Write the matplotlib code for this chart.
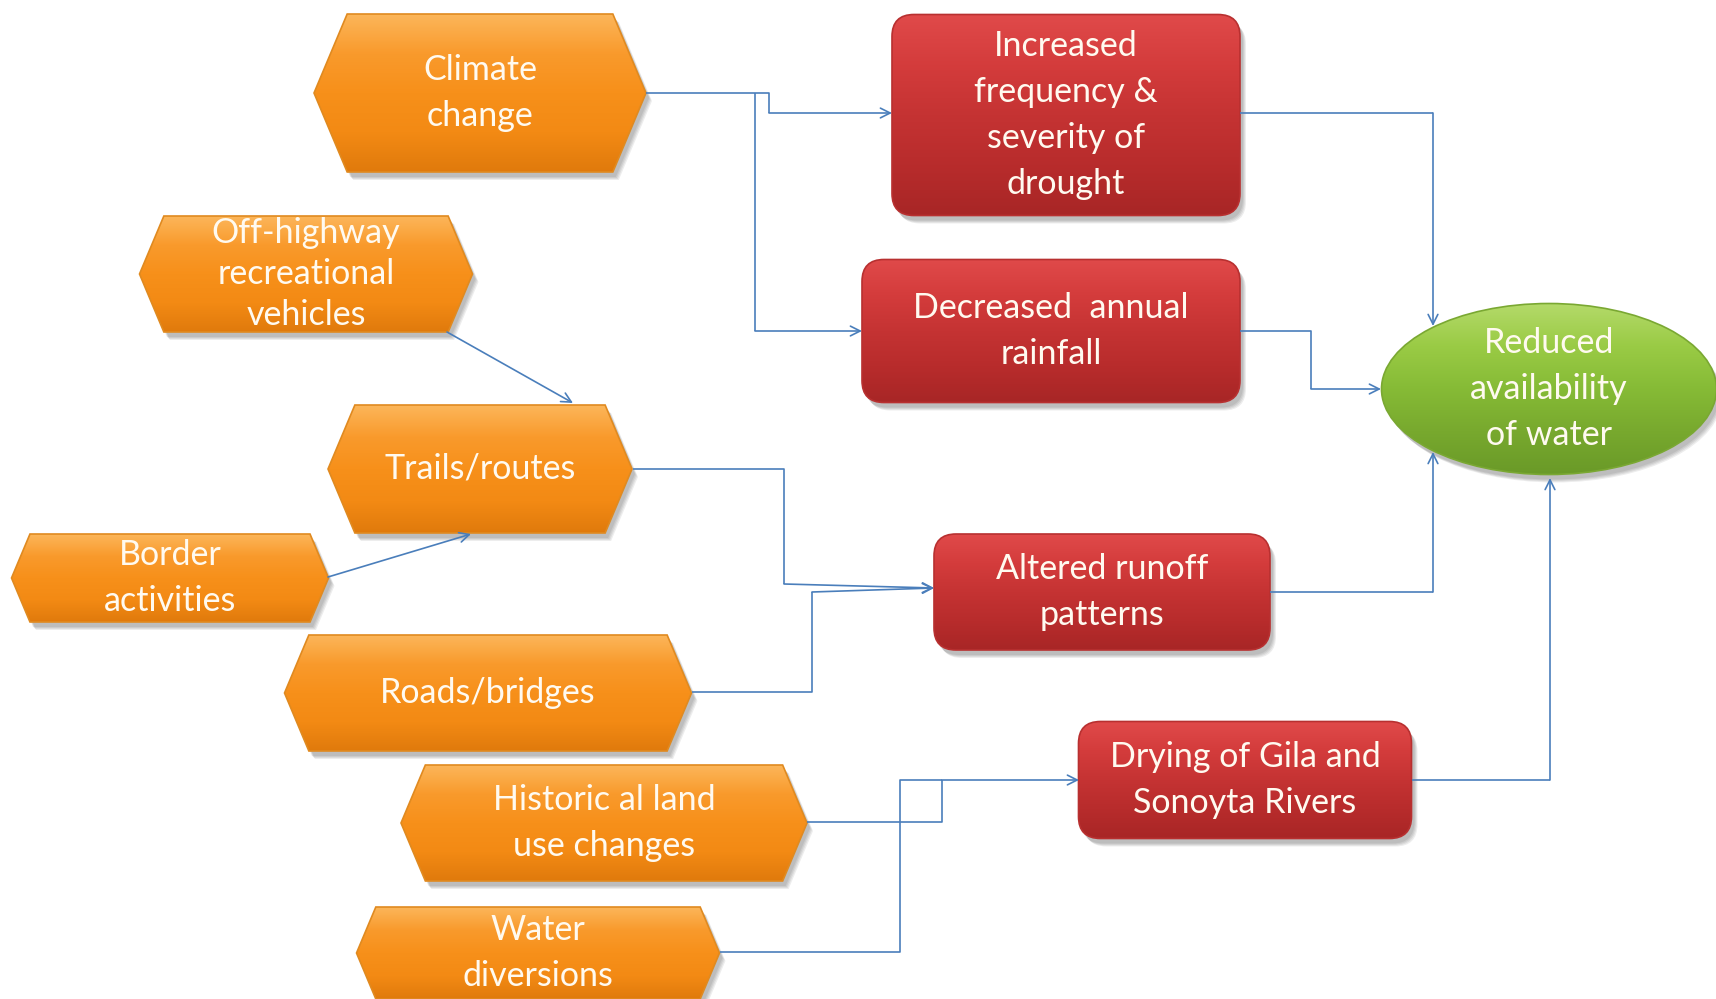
import numpy as np
import matplotlib.pyplot as plt
from matplotlib.patches import Polygon, FancyBboxPatch, Ellipse
from matplotlib.colors import LinearSegmentedColormap

# stressors (orange hexagons)
cause_labels = ["Climate\nchange", "Off-highway\nrecreational\nvehicles", "Trails/routes",
                "Border\nactivities", "Roads/bridges", "Historic al land\nuse changes",
                "Water\ndiversions"]
cause_xy = [(480, 93), (306, 274), (480, 469), (170, 578), (488, 693), (604, 823), (538, 953)]
cause_wh = [(332, 158), (333, 116), (304, 128), (317, 88), (407, 116), (406, 116), (363, 92)]
cause_lsp = [1.55, 1.35, 1.55, 1.55, 1.55, 1.55, 1.55]

# intermediate effects (red boxes)
effect_labels = ["Increased\nfrequency &\nseverity of\ndrought", "Decreased  annual\nrainfall",
                 "Altered runoff\npatterns", "Drying of Gila and\nSonoyta Rivers"]
effect_xy = [(1066, 115), (1051, 331), (1102, 592), (1245, 780)]
effect_wh = [(348, 201), (378, 143), (336, 116), (333, 117)]

# final outcome (green ellipse)
outcome_label = "Reduced\navailability\nof water"
outcome_xy = (1549, 389)
outcome_wh = (335, 171)

# connectors; arrow flag says whether the last segment gets a head
links = [
    [(646, 93), (769, 93), (769, 113), (892, 113)],
    [(755, 93), (755, 331), (862, 331)],
    [(1240, 113), (1433, 113), (1433, 326)],
    [(1240, 331), (1311, 331), (1311, 389), (1381, 389)],
    [(447, 332), (573, 403)],
    [(328, 577), (471, 534)],
    [(633, 469), (784, 469), (784, 584), (934, 588)],
    [(692, 692), (812, 692), (812, 592), (934, 588)],
    [(1270, 592), (1433, 592), (1433, 452)],
    [(807, 822), (942, 822), (942, 780), (1079, 780)],
    [(720, 952), (900, 952), (900, 780), (942, 780)],
    [(1412, 780), (1550, 780), (1550, 478)],
]
link_arrow = [True, True, True, True, True, True, True, True, True, True, False, True]

W, H = 1716, 999
fig = plt.figure(figsize=(W / 100, H / 100), dpi=100, facecolor="white")
ax = fig.add_axes([0, 0, 1, 1])
ax.set_xlim(0, W)
ax.set_ylim(H, 0)
ax.axis("off")

font = ["Lato", "DejaVu Sans"]
fsize = 24.5
lsp = 1.55
line_col = "#4a7ebb"


def gradient_fill(patch, colors, x0, y0, w, h, z):
    ax.add_patch(patch)
    cmap = LinearSegmentedColormap.from_list("g", colors)
    grad = np.linspace(0, 1, 256).reshape(-1, 1)
    im = ax.imshow(grad, cmap=cmap, extent=(x0, x0 + w, y0 + h, y0), origin="upper",
                   aspect="auto", zorder=z, interpolation="bilinear")
    im.set_clip_path(patch)


def shadow(make, n=4):
    for i in range(n):
        p = make(3 + i, 5 + i)
        p.set_facecolor("black")
        p.set_edgecolor("none")
        p.set_alpha(0.07)
        p.set_zorder(1)
        ax.add_patch(p)


def hexagon(cx, cy, w, h, dx=0, dy=0):
    s = 0.21 * h
    x0, x1 = cx - w / 2 + dx, cx + w / 2 + dx
    y0, y1 = cy - h / 2 + dy, cy + h / 2 + dy
    pts = [(x0, cy + dy), (x0 + s, y0), (x1 - s, y0), (x1, cy + dy), (x1 - s, y1), (x0 + s, y1)]
    return Polygon(pts, closed=True)


def rbox(cx, cy, w, h, dx=0, dy=0):
    return FancyBboxPatch((cx - w / 2 + dx, cy - h / 2 + dy), w, h,
                          boxstyle="round,pad=0,rounding_size=22")


orange = ["#fcb65a", "#f99a2c", "#f7901a", "#f38a14", "#e07a0c"]
red = ["#e04a4a", "#d43c3c", "#c53333", "#b82c2c", "#a82626"]
green = ["#b4da6a", "#9acb45", "#86bb36", "#78a92e", "#6a9a28"]

for lab, (cx, cy), (w, h), ls in zip(cause_labels, cause_xy, cause_wh, cause_lsp):
    shadow(lambda dx, dy: hexagon(cx, cy, w, h, dx, dy))
    p = hexagon(cx, cy, w, h)
    p.set_facecolor("none")
    p.set_edgecolor("#e08a20")
    p.set_linewidth(1.2)
    p.set_zorder(3)
    gradient_fill(p, orange, cx - w / 2, cy - h / 2, w, h, 2)
    ax.text(cx, cy, lab, ha="center", va="center", color="#fffaf0", fontsize=fsize,
            family=font, linespacing=ls, zorder=4)

for lab, (cx, cy), (w, h) in zip(effect_labels, effect_xy, effect_wh):
    shadow(lambda dx, dy: rbox(cx, cy, w, h, dx, dy))
    p = rbox(cx, cy, w, h)
    p.set_facecolor("none")
    p.set_edgecolor("#b83030")
    p.set_linewidth(1.2)
    p.set_zorder(3)
    gradient_fill(p, red, cx - w / 2, cy - h / 2, w, h, 2)
    ax.text(cx, cy, lab, ha="center", va="center", color="#fffaf0", fontsize=fsize,
            family=font, linespacing=lsp, zorder=4)

cx, cy = outcome_xy
w, h = outcome_wh
shadow(lambda dx, dy: Ellipse((cx + dx, cy + dy), w, h))
p = Ellipse((cx, cy), w, h, facecolor="none", edgecolor="#7aa832", linewidth=1.2, zorder=3)
gradient_fill(p, green, cx - w / 2, cy - h / 2, w, h, 2)
ax.text(cx, cy, outcome_label, ha="center", va="center", color="#fffaf0", fontsize=fsize,
        family=font, linespacing=lsp, zorder=4)

for pts, has_head in zip(links, link_arrow):
    xs, ys = zip(*pts)
    if has_head:
        ax.plot(xs[:-1], ys[:-1], color=line_col, lw=1.2, zorder=5, solid_capstyle="butt")
        ax.annotate("", xy=pts[-1], xytext=pts[-2],
                    arrowprops=dict(arrowstyle="->,head_length=0.7,head_width=0.35",
                                    color=line_col, lw=1.2, shrinkA=0, shrinkB=0),
                    zorder=5)
    else:
        ax.plot(xs, ys, color=line_col, lw=1.2, zorder=5, solid_capstyle="butt")

fig.savefig("out.png", dpi=100, facecolor="white")
